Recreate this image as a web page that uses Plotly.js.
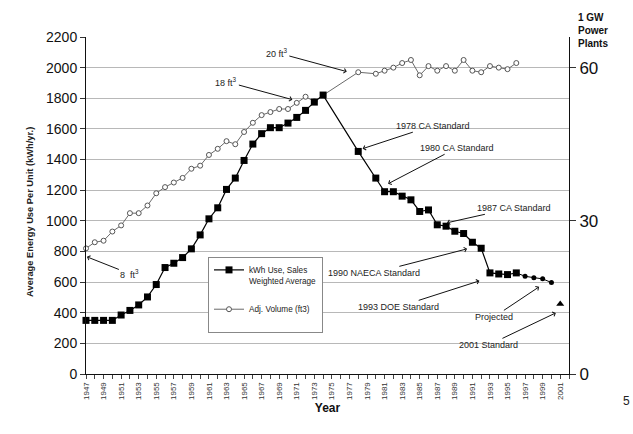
<!DOCTYPE html>
<html>
<head>
<meta charset="utf-8">
<script src="https://cdn.plot.ly/plotly-3.0.1.min.js"></script>
<style>
  html, body { margin: 0; padding: 0; background: #fff; }
  #chart { width: 633px; height: 434px; }
</style>
</head>
<body>
<div id="chart"></div>
<script>
// ---- Data ----
const kwhYears = [1947,1948,1949,1950,1951,1952,1953,1954,1955,1956,1957,1958,1959,1960,
  1961,1962,1963,1964,1965,1966,1967,1968,1969,1970,1971,1972,1973,1974,
  1978,1980,1981,1982,1983,1984,1985,1986,1987,1988,1989,1990,1991,1992,1993,1994,1995,1996];
const kwhValues = [350,350,350,350,385,415,451,503,584,695,723,760,817,908,
  1013,1085,1205,1279,1394,1501,1569,1608,1608,1638,1675,1721,1775,1821,
  1453,1279,1190,1190,1161,1137,1061,1071,974,965,932,917,860,821,660,653,649,660];

const projYears = [1997,1998,1999,2000];
const projValues = [638,629,621,597];

const std2001Years = [2001];
const std2001Values = [457];

const volYears = kwhYears.slice();
const volValues = [8.2,8.6,8.7,9.3,9.7,10.5,10.5,11.0,11.8,12.2,12.5,12.8,13.4,13.6,
  14.3,14.7,15.2,15.0,15.8,16.4,16.9,17.1,17.3,17.3,17.7,18.1,17.8,18.2,
  19.7,19.6,19.8,20.0,20.3,20.5,19.5,20.1,19.8,20.1,19.8,20.5,19.8,19.7,20.1,20.0,19.9,20.3];

const rightTicks = [0,30,60];
const xLabelStart = 1947;

const FONT = "Arial, 'Liberation Sans', sans-serif";

// ---- Traces ----
const lastIdx = kwhYears.length - 1;
const traces = [
  // invisible anchors so the left / right axes have a trace
  {x: [xLabelStart], y: [0], yaxis: 'y', mode: 'markers', marker: {opacity: 0}, showlegend: false, hoverinfo: 'skip', legendgroup: 'z', legendrank: 3},
  {x: [xLabelStart], y: [0], yaxis: 'y2', mode: 'markers', marker: {opacity: 0}, showlegend: false, hoverinfo: 'skip', legendgroup: 'z', legendrank: 3},
  {
    x: volYears, y: volValues, yaxis: 'y3',
    name: 'Adj. Volume (ft3)<br>&nbsp;', legendgroup: 'b', legendrank: 2,
    mode: 'lines+markers', cliponaxis: false,
    line: {color: '#6a6a6a', width: 1},
    marker: {symbol: 'circle', size: 5, color: '#fff', line: {color: '#555', width: 1}}
  },
  {
    x: [kwhYears[lastIdx]].concat(projYears), y: [kwhValues[lastIdx]].concat(projValues),
    yaxis: 'y4', name: 'Projected', showlegend: false, legendgroup: 'a', legendrank: 1,
    mode: 'lines+markers', cliponaxis: false,
    line: {color: '#000', width: 1},
    marker: {symbol: 'circle', size: 5, color: '#000'}
  },
  {
    x: std2001Years, y: std2001Values, yaxis: 'y4',
    name: '2001 Standard', showlegend: false, legendgroup: 'a', legendrank: 1,
    mode: 'markers', cliponaxis: false,
    marker: {symbol: 'triangle-up', size: 7, color: '#000'}
  },
  {
    x: kwhYears, y: kwhValues, yaxis: 'y4',
    name: 'kWh Use, Sales<br>Weighted Average', legendgroup: 'a', legendrank: 1,
    mode: 'lines+markers', cliponaxis: false,
    line: {color: '#000', width: 1.2},
    marker: {symbol: 'square', size: 7, color: '#000'}
  }
];

// ---- Annotations ----
function note(text, x, y, ax, ay) {
  return {text: text, x: x, y: y, xref: 'x', yref: 'y', ax: ax, ay: ay,
    showarrow: true, arrowhead: 4, arrowsize: 0.9, arrowwidth: 1, arrowcolor: '#111',
    font: {family: FONT, size: 9, color: '#222'}};
}
const annotations = [
  note('8  ft<sup>3</sup>', 1947.1, 765, 43, 17),
  note('18 ft<sup>3</sup>', 1970.5, 1791, -66, -18),
  note('20 ft<sup>3</sup>', 1976.7, 1974, -70, -19),
  note('1978 CA Standard', 1978.5, 1471, 70, -23),
  note('1980 CA Standard', 1981.4, 1242, 69, -36),
  note('1987 CA Standard', 1988.1, 987, 67, -15),
  note('1990 NAECA Standard', 1990.4, 817, -93, 24),
  note('1993 DOE Standard', 1991.8, 608, -81, 26),
  note('Projected', 1998.6, 569, -45, 30),
  note('2001 Standard', 2000.5, 399, -67, 32),
  {text: '<b>Average Energy Use Per Unit (kWh/yr.)</b>', xref: 'paper', yref: 'paper',
   x: -0.116, y: 0.481, xanchor: 'center', yanchor: 'middle', textangle: -90, showarrow: false,
   font: {family: FONT, size: 9.3, color: '#222'}},
  {text: '<b>1 GW<br>Power<br>Plants</b>', xref: 'paper', yref: 'paper', x: 1.015, y: 1.0816,
   xanchor: 'left', yanchor: 'top', align: 'left', showarrow: false,
   font: {family: FONT, size: 10, color: '#111'}},
  {text: '5', xref: 'paper', yref: 'paper', x: 1.12, y: -0.08, xanchor: 'center', yanchor: 'middle',
   showarrow: false, font: {family: FONT, size: 12, color: '#222'}}
];

const layout = {
  width: 633, height: 434,
  margin: {l: 86, r: 64, t: 37, b: 60},
  paper_bgcolor: '#fff', plot_bgcolor: '#fff',
  font: {family: FONT, color: '#111'},
  showlegend: true,
  legend: {
    x: 0.2526, y: 0.347, xanchor: 'left', yanchor: 'top',
    bgcolor: '#fff', bordercolor: '#888', borderwidth: 1,
    font: {family: FONT, size: 8.2, color: '#222'},
    tracegroupgap: 15, itemwidth: 30, traceorder: 'grouped', valign: 'top'
  },
  xaxis: {
    range: [1947, 2002], tick0: xLabelStart, dtick: 2,
    tickangle: -90, tickfont: {family: FONT, size: 8, color: '#333'},
    ticks: 'outside', ticklen: 4, tickcolor: '#444',
    minor: {dtick: 1, ticks: 'outside', ticklen: 4, tickcolor: '#444'},
    showgrid: false, zeroline: false,
    showline: true, linecolor: '#111', linewidth: 1,
    title: {text: '<b>Year</b>', font: {family: FONT, size: 12, color: '#111'}, standoff: 4}
  },
  yaxis: {
    range: [0, 2200], dtick: 200,
    tickfont: {family: FONT, size: 14, color: '#111'},
    ticks: 'outside', ticklen: 5, tickcolor: '#333',
    showgrid: true, gridcolor: '#b8b8b8', gridwidth: 1,
    zeroline: false, showline: true, linecolor: '#111', linewidth: 1
  },
  yaxis2: {
    overlaying: 'y', side: 'right', range: [0, 66], tickvals: rightTicks,
    tickfont: {family: FONT, size: 17, color: '#111'},
    ticks: 'outside', ticklen: 6, tickcolor: '#333',
    showgrid: false, zeroline: false, showline: true, linecolor: '#111', linewidth: 1
  },
  yaxis3: {overlaying: 'y', range: [0, 22], visible: false},
  yaxis4: {overlaying: 'y', range: [0, 2200], visible: false},
  annotations: annotations
};

Plotly.newPlot('chart', traces, layout, {displayModeBar: false, staticPlot: true});
</script>
</body>
</html>
